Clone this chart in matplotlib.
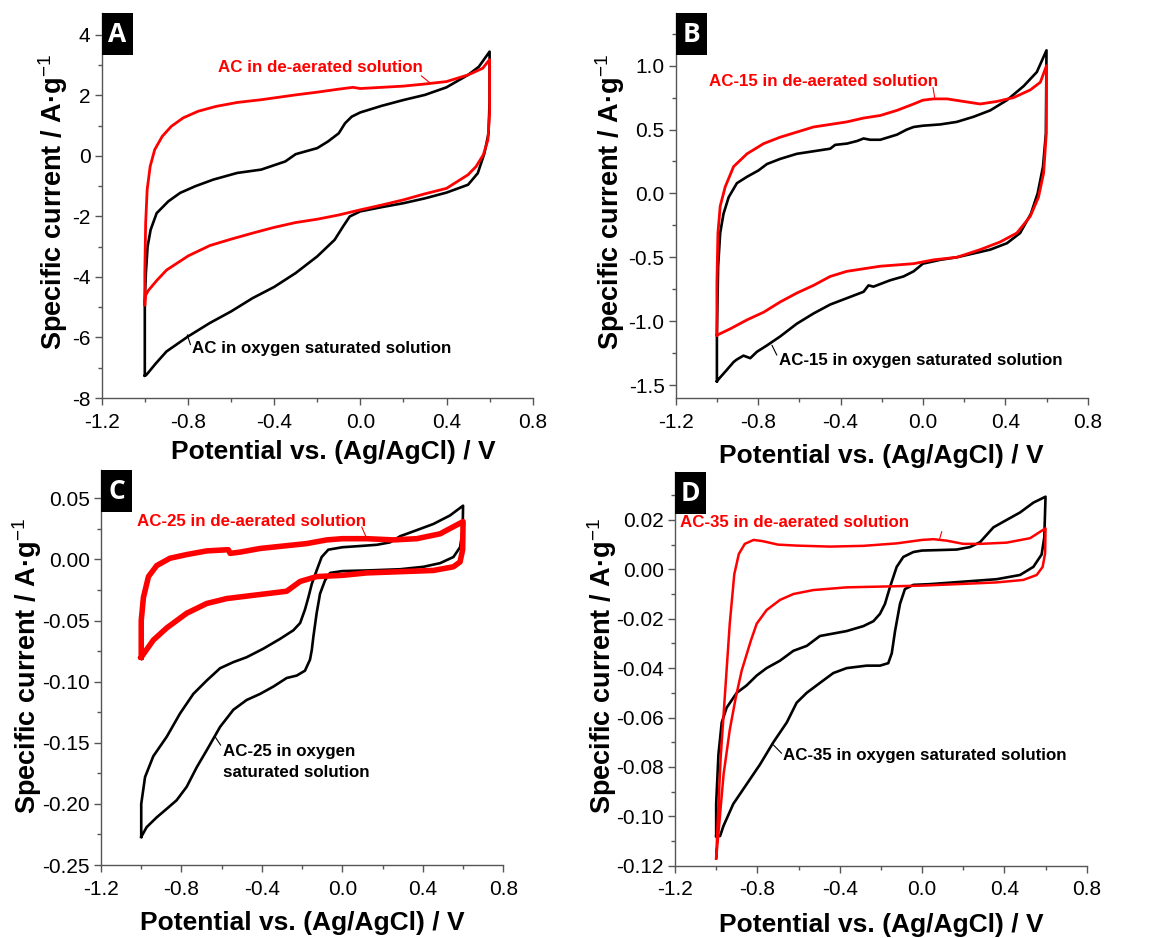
import matplotlib
matplotlib.use('Agg')
import matplotlib.pyplot as plt
from matplotlib.patches import Rectangle
from matplotlib.ticker import MultipleLocator, FormatStrFormatter

plt.rcParams['font.family'] = ['Liberation Sans', 'DejaVu Sans']
plt.rcParams['axes.unicode_minus'] = False
plt.rcParams['mathtext.fontset'] = 'custom'
plt.rcParams['mathtext.rm'] = 'Liberation Sans'
plt.rcParams['mathtext.it'] = 'Liberation Sans'
plt.rcParams['mathtext.bf'] = 'Liberation Sans:bold'

# ---- panel A : AC ----
a_o2_v = [-1.0, -1.0, -0.995, -0.987, -0.973, -0.945, -0.891, -0.836, -0.766, -0.682, -0.571, -0.46,
          -0.348, -0.30, -0.20, -0.15, -0.10, -0.071, -0.04, 0.0, 0.10, 0.20, 0.30, 0.40, 0.50, 0.55, 0.60,
          0.60, 0.595, 0.576, 0.545, 0.50, 0.40, 0.30, 0.20, 0.10, 0.0, -0.049, -0.08, -0.119, -0.20,
          -0.30, -0.40, -0.50, -0.60, -0.698, -0.798, -0.899, -0.948, -0.992, -1.0]
a_o2_i = [-7.26, -4.76, -3.87, -2.99, -2.44, -1.89, -1.50, -1.22, -1.00, -0.78, -0.56, -0.45,
          -0.18, 0.06, 0.26, 0.48, 0.75, 1.08, 1.30, 1.44, 1.66, 1.85, 2.02, 2.27, 2.68, 2.95, 3.45,
          1.85, 0.75, 0.09, -0.57, -0.95, -1.21, -1.40, -1.56, -1.69, -1.83, -2.00, -2.33, -2.77, -3.32,
          -3.87, -4.33, -4.70, -5.14, -5.52, -5.96, -6.46, -6.85, -7.23, -7.26]
a_n2_v = [-1.0, -1.0, -0.996, -0.989, -0.975, -0.954, -0.919, -0.877, -0.822, -0.752, -0.669, -0.571,
          -0.46, -0.30, -0.20, -0.10, -0.034, 0.0, 0.10, 0.20, 0.30, 0.40, 0.50, 0.568, 0.60,
          0.60, 0.592, 0.571, 0.537, 0.50, 0.40, 0.30, 0.20, 0.10, 0.0, -0.10, -0.20, -0.30, -0.40,
          -0.50, -0.60, -0.698, -0.798, -0.899, -0.945, -0.984, -0.997, -1.0]
a_n2_i = [-4.92, -3.87, -2.21, -1.11, -0.34, 0.21, 0.65, 0.98, 1.26, 1.48, 1.64, 1.77,
          1.86, 2.02, 2.11, 2.21, 2.27, 2.23, 2.27, 2.31, 2.38, 2.46, 2.68, 2.90, 3.19,
          1.41, 0.53, 0.04, -0.35, -0.62, -1.07, -1.25, -1.45, -1.62, -1.78, -1.95, -2.09, -2.20, -2.36,
          -2.55, -2.75, -2.96, -3.30, -3.77, -4.12, -4.45, -4.62, -4.92]

# ---- panel B : AC-15 ----
b_o2_v = [-1.0, -1.0, -0.994, -0.984, -0.968, -0.943, -0.903, -0.854, -0.798, -0.757, -0.693, -0.612,
          -0.531, -0.45, -0.426, -0.369, -0.32, -0.288, -0.256, -0.207, -0.126, -0.078, -0.045, 0.0,
          0.084, 0.165, 0.246, 0.327, 0.408, 0.489, 0.553, 0.60,
          0.597, 0.583, 0.557, 0.524, 0.472, 0.408, 0.327, 0.246, 0.165, 0.084, 0.0, -0.045, -0.094,
          -0.159, -0.24, -0.264, -0.288, -0.369, -0.45, -0.531, -0.612, -0.693, -0.757, -0.806, -0.838,
          -0.871, -0.903, -0.919, -0.951, -0.984, -1.0]
b_o2_i = [-1.47, -1.10, -0.57, -0.31, -0.16, -0.03, 0.08, 0.13, 0.18, 0.23, 0.27, 0.31,
          0.33, 0.35, 0.38, 0.39, 0.41, 0.43, 0.42, 0.42, 0.46, 0.50, 0.52, 0.53,
          0.54, 0.56, 0.60, 0.65, 0.73, 0.84, 0.95, 1.12,
          0.47, 0.21, 0.0, -0.16, -0.31, -0.39, -0.44, -0.47, -0.50, -0.52, -0.55, -0.61, -0.65,
          -0.68, -0.73, -0.72, -0.77, -0.82, -0.87, -0.94, -1.02, -1.12, -1.19, -1.24, -1.29,
          -1.27, -1.30, -1.32, -1.38, -1.44, -1.47]
b_n2_v = [-1.0, -1.0, -0.995, -0.984, -0.96, -0.919, -0.854, -0.773, -0.693, -0.612, -0.531, -0.45,
          -0.369, -0.288, -0.207, -0.126, -0.045, 0.0, 0.052, 0.117, 0.197, 0.278, 0.359, 0.44, 0.521,
          0.57, 0.60,
          0.599, 0.586, 0.561, 0.521, 0.456, 0.375, 0.278, 0.165, 0.052, -0.045, -0.126, -0.207, -0.288,
          -0.369, -0.45, -0.531, -0.612, -0.693, -0.773, -0.854, -0.935, -1.0]
b_n2_i = [-1.11, -0.70, -0.31, -0.10, 0.05, 0.21, 0.31, 0.39, 0.44, 0.48, 0.52, 0.54,
          0.56, 0.59, 0.61, 0.65, 0.70, 0.73, 0.74, 0.74, 0.72, 0.70, 0.72, 0.75, 0.81,
          0.87, 1.0,
          0.47, 0.16, -0.03, -0.18, -0.31, -0.38, -0.44, -0.50, -0.52, -0.55, -0.56, -0.57, -0.59,
          -0.61, -0.65, -0.72, -0.78, -0.85, -0.93, -0.99, -1.06, -1.11]

# ---- panel C : AC-25 ----
c_o2_v = [-1.0, -1.0, -0.981, -0.94, -0.873, -0.807, -0.741, -0.674, -0.608, -0.542, -0.476, -0.393,
          -0.31, -0.244, -0.21, -0.186, -0.169, -0.152, -0.128, -0.103, -0.07, 0.0, 0.088, 0.171, 0.237,
          0.287, 0.37, 0.452, 0.535, 0.60,
          0.598, 0.585, 0.552, 0.486, 0.403, 0.287, 0.121, 0.0, -0.061, -0.086, -0.111, -0.128, -0.144,
          -0.152, -0.161, -0.186, -0.227, -0.277, -0.343, -0.409, -0.476, -0.542, -0.608, -0.674,
          -0.724, -0.774, -0.824, -0.873, -0.923, -0.973, -1.0]
c_o2_i = [-0.227, -0.200, -0.178, -0.161, -0.145, -0.126, -0.110, -0.099, -0.089, -0.084, -0.080, -0.073,
          -0.065, -0.058, -0.052, -0.041, -0.031, -0.020, -0.009, 0.002, 0.008, 0.010, 0.011, 0.012, 0.014,
          0.019, 0.024, 0.029, 0.036, 0.044,
          0.024, 0.010, 0.002, -0.003, -0.006, -0.008, -0.009, -0.0095, -0.011, -0.017, -0.028, -0.044, -0.063,
          -0.074, -0.082, -0.091, -0.095, -0.097, -0.104, -0.110, -0.115, -0.123, -0.137, -0.156,
          -0.170, -0.186, -0.197, -0.204, -0.211, -0.219, -0.227]
c_n2_v = [-1.0, -1.0, -0.989, -0.964, -0.923, -0.857, -0.774, -0.674, -0.567, -0.558, -0.509, -0.409,
          -0.293, -0.177, -0.078, 0.0, 0.121, 0.254, 0.37, 0.486, 0.60,
          0.598, 0.585, 0.552, 0.452, 0.287, 0.121, 0.0, -0.128, -0.21, -0.277, -0.376, -0.476, -0.575,
          -0.674, -0.774, -0.873, -0.94, -1.0]
c_n2_i = [-0.080, -0.050, -0.031, -0.014, -0.005, 0.001, 0.004, 0.007, 0.008, 0.005, 0.006, 0.009,
          0.011, 0.013, 0.016, 0.017, 0.017, 0.016, 0.017, 0.021, 0.031,
          0.008, -0.002, -0.006, -0.009, -0.010, -0.011, -0.013, -0.014, -0.018, -0.026, -0.028, -0.030, -0.032,
          -0.036, -0.044, -0.056, -0.066, -0.080]

# ---- panel D : AC-35 ----
d_o2_v = [-1.0, -1.0, -0.989, -0.973, -0.949, -0.90, -0.852, -0.803, -0.755, -0.69, -0.625, -0.56,
          -0.496, -0.431, -0.366, -0.285, -0.236, -0.204, -0.18, -0.155, -0.123, -0.091, -0.042, 0.0,
          0.087, 0.168, 0.233, 0.282, 0.347, 0.411, 0.476, 0.541, 0.60,
          0.594, 0.581, 0.541, 0.476, 0.363, 0.201, 0.039, -0.042, -0.083, -0.107, -0.131, -0.147,
          -0.164, -0.204, -0.269, -0.366, -0.431, -0.496, -0.56, -0.609, -0.657, -0.722, -0.787,
          -0.852, -0.917, -0.965, -0.981, -1.0]
d_o2_i = [-0.108, -0.095, -0.075, -0.062, -0.056, -0.050, -0.047, -0.043, -0.040, -0.037, -0.033, -0.031,
          -0.027, -0.026, -0.025, -0.023, -0.021, -0.018, -0.014, -0.007, 0.001, 0.005, 0.007, 0.0076,
          0.0078, 0.008, 0.009, 0.011, 0.017, 0.020, 0.023, 0.027, 0.0294,
          0.013, 0.006, 0.001, -0.0023, -0.004, -0.005, -0.006, -0.0063, -0.008, -0.014, -0.025, -0.034,
          -0.038, -0.039, -0.039, -0.040, -0.042, -0.046, -0.050, -0.054, -0.062, -0.070, -0.079,
          -0.087, -0.095, -0.104, -0.108, -0.108]
d_n2_v = [-1.0, -0.993, -0.978, -0.956, -0.934, -0.912, -0.89, -0.861, -0.818, -0.774, -0.70, -0.609,
          -0.447, -0.285, -0.123, 0.0, 0.055, 0.12, 0.201, 0.282, 0.411, 0.525, 0.60,
          0.598, 0.586, 0.557, 0.492, 0.363, 0.201, 0.0, -0.204, -0.366, -0.528, -0.625, -0.69, -0.755,
          -0.803, -0.832, -0.876, -0.905, -0.934, -0.964, -0.985, -1.0]
d_n2_i = [-0.117, -0.103, -0.076, -0.049, -0.022, -0.002, 0.0062, 0.0103, 0.0119, 0.0114, 0.0100, 0.0096,
          0.0092, 0.0095, 0.0105, 0.0119, 0.0122, 0.0116, 0.0103, 0.0103, 0.0108, 0.0126, 0.0166,
          0.0065, 0.001, -0.0023, -0.0043, -0.0053, -0.0059, -0.0066, -0.007, -0.0073, -0.0084, -0.010,
          -0.0124, -0.0165, -0.022, -0.029, -0.041, -0.052, -0.065, -0.083, -0.103, -0.117]

x_ticks = [-1.2, -0.8, -0.4, 0.0, 0.4, 0.8]

W, H = 1162, 938
fig = plt.figure(figsize=(W / 100, H / 100), dpi=100)
axis_grey = '#555555'

panels = [
    # letter, axes rect (px: left, top, right, bottom), ylim, major, fmt, data, red lw
    ('A', (101.7, 13, 532.7, 398), (-8, 4.727), 2, '%d',
     (a_o2_v, a_o2_i, a_n2_v, a_n2_i), 2.0),
    ('B', (675.7, 13.3, 1087.7, 398.3), (-1.604, 1.41), 0.5, '%.1f',
     (b_o2_v, b_o2_i, b_n2_v, b_n2_i), 2.0),
    ('C', (101, 470, 503.3, 865), (-0.25, 0.0732), 0.05, '%.2f',
     (c_o2_v, c_o2_i, c_n2_v, c_n2_i), 4.0),
    ('D', (675, 472, 1086.7, 865.7), (-0.12, 0.0394), 0.02, '%.2f',
     (d_o2_v, d_o2_i, d_n2_v, d_n2_i), 1.8),
]

axes = {}
for letter, (l, t, r, b), ylim, major, fmt, (ov, oi, nv, ni), rlw in panels:
    ax = fig.add_axes([l / W, 1 - b / H, (r - l) / W, (b - t) / H])
    ax.plot(ov, oi, color='black', lw=1.9, solid_joinstyle='round')
    ax.plot(nv, ni, color='#ff0000', lw=rlw, solid_joinstyle='round')
    ax.set_xlim(-1.2, 0.8)
    ax.set_ylim(*ylim)
    ax.set_xticks(x_ticks)
    ax.xaxis.set_minor_locator(MultipleLocator(0.2))
    ax.xaxis.set_major_formatter(FormatStrFormatter('%.1f'))
    ax.yaxis.set_major_locator(MultipleLocator(major))
    ax.yaxis.set_minor_locator(MultipleLocator(major / 2))
    ax.yaxis.set_major_formatter(FormatStrFormatter(fmt))
    for s in ('top', 'right'):
        ax.spines[s].set_visible(False)
    for s in ('left', 'bottom'):
        ax.spines[s].set_linewidth(1.0)
        ax.spines[s].set_color(axis_grey)
    ax.tick_params(which='major', direction='out', length=5, width=1.0, color=axis_grey,
                   labelsize=15)
    ax.tick_params(axis='x', which='major', pad=5.5)
    ax.tick_params(axis='y', which='major', pad=3.0)
    ax.tick_params(which='minor', direction='out', length=3, width=1.0, color=axis_grey)
    ax.set_xlabel('Potential vs. (Ag/AgCl) / V', fontsize=19, fontweight='bold', va='center')
    ax.set_ylabel('Specific current / A·g$^{\\mathrm{-1}}$', fontsize=19.5, fontweight='bold',
                  va='center', rotation_mode='anchor')
    axes[letter] = ax

    # panel letter box
    fig.patches.append(Rectangle((l / W, 1 - (t + 42) / H), 31 / W, 42 / H,
                                 transform=fig.transFigure, facecolor='black',
                                 edgecolor='none', zorder=5))
    fig.text((l + 15.5) / W, 1 - (t + 21) / H, letter, color='white', fontsize=19,
             fontweight='bold', family=['Open Sans', 'DejaVu Sans'],
             ha='center', va='center', zorder=6)

# axis label placement (axes fraction)
axes['A'].xaxis.set_label_coords((333.5 - 101.7) / 431, -54 / 385)
axes['B'].xaxis.set_label_coords(0.5, -58 / 385)
axes['C'].xaxis.set_label_coords(0.5, -58 / 395)
axes['D'].xaxis.set_label_coords(0.5, -59 / 393.7)
axes['A'].yaxis.set_label_coords((53 - 101.7) / 431, (398 - 202.5) / 385)
axes['B'].yaxis.set_label_coords((610 - 675.7) / 412, (398.3 - 201.7) / 385)
axes['C'].yaxis.set_label_coords((27 - 101) / 402.3, (865 - 666) / 395)
axes['D'].yaxis.set_label_coords((601.7 - 675) / 411.7, (865.7 - 666) / 393.7)

# annotations
tk = dict(fontsize=12.2, fontweight='bold', va='center', ha='left')
red = '#ff0000'
leader = dict(arrowstyle='-', lw=0.8, shrinkA=0, shrinkB=0)

ax = axes['A']
ax.text(-0.659, 2.93, 'AC in de-aerated solution', color=red, **tk)
ax.annotate('', xy=(0.321, 2.43), xytext=(0.283, 2.65), arrowprops=dict(color=red, **leader))
ax.text(-0.783, -6.35, 'AC in oxygen saturated solution', color='black', **tk)
ax.annotate('', xy=(-0.803, -5.91), xytext=(-0.788, -6.24), arrowprops=dict(color='black', **leader))

ax = axes['B']
ax.text(-1.04, 0.875, 'AC-15 in de-aerated solution', color=red, **tk)
ax.annotate('', xy=(0.057, 0.752), xytext=(0.049, 0.83), arrowprops=dict(color=red, **leader))
ax.text(-0.70, -1.305, 'AC-15 in oxygen saturated solution', color='black', **tk)
ax.annotate('', xy=(-0.733, -1.188), xytext=(-0.709, -1.266), arrowprops=dict(color='black', **leader))

ax = axes['C']
ax.text(-1.022, 0.0308, 'AC-25 in de-aerated solution', color=red, **tk)
ax.annotate('', xy=(0.121, 0.0172), xytext=(0.096, 0.0267), arrowprops=dict(color=red, **leader))
ax.text(-0.595, -0.1655, 'AC-25 in oxygen\nsaturated solution', color='black',
        linespacing=1.5, **tk)
ax.annotate('', xy=(-0.633, -0.145), xytext=(-0.605, -0.152), arrowprops=dict(color='black', **leader))

ax = axes['D']
ax.text(-1.176, 0.0189, 'AC-35 in de-aerated solution', color=red, **tk)
ax.annotate('', xy=(0.084, 0.0119), xytext=(0.096, 0.0153), arrowprops=dict(color=red, **leader))
ax.text(-0.674, -0.0752, 'AC-35 in oxygen saturated solution', color='black', **tk)
ax.annotate('', xy=(-0.722, -0.0711), xytext=(-0.682, -0.0745), arrowprops=dict(color='black', **leader))

fig.savefig('out.png', dpi=100)
